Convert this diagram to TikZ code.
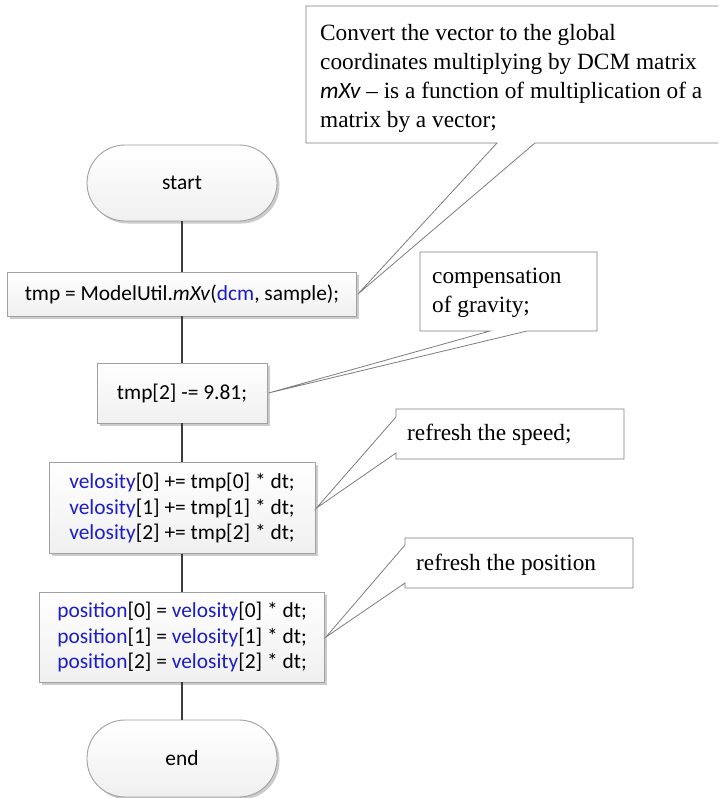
\documentclass[tikz,border=0pt]{standalone}
\usepackage{fontspec}
\setmainfont{Liberation Serif}
\newfontfamily\codefont{Carlito}
\usetikzlibrary{shadows}
\definecolor{codeblue}{RGB}{28,28,200}
\definecolor{boxline}{RGB}{160,160,160}
\definecolor{flowline}{RGB}{60,60,60}
\definecolor{callline}{RGB}{125,125,125}
\tikzset{
  proc/.style={rectangle, draw=boxline, line width=0.9pt, top color=white, bottom color=black!6,
    drop shadow={shadow xshift=2.5pt, shadow yshift=-2.5pt, opacity=0.2, fill=black},
    inner sep=0pt, align=center, font=\codefont\fontsize{21.4}{25.5}\selectfont},
  term/.style={proc, rounded corners=38pt},
  flow/.style={draw=flowline, line width=2.2pt},
  callout/.style={draw=callline, line width=0.8pt, fill=white},
  calltext/.style={anchor=north west, inner sep=0pt, align=left, font=\fontsize{23.3}{29}\selectfont},
}
\newcommand{\bl}[1]{\textcolor{codeblue}{#1}}
\begin{document}
\begin{tikzpicture}[x=1pt,y=-1pt]
\useasboundingbox (0,0) rectangle (718,798);
\clip (0,0) rectangle (718,798);
\fill[white] (0,0) rectangle (718,798);

% flowchart nodes
\node[term, minimum width=190pt, minimum height=76pt] (start) at (182,183) {start};
\node[proc, minimum width=349pt, minimum height=44pt] (b1) at (182,294) {tmp = ModelUtil.\textit{mXv}(\bl{dcm}, sample);};
\node[proc, minimum width=170pt, minimum height=60pt] (b2) at (182,393) {tmp[2] -= 9.81;};
\node[proc, minimum width=266pt, minimum height=91pt] (b3) at (182,508) {\bl{velosity}[0] += tmp[0] * dt;\\\bl{velosity}[1] += tmp[1] * dt;\\\bl{velosity}[2] += tmp[2] * dt;};
\node[proc, minimum width=285pt, minimum height=90pt] (b4) at (182,637) {\bl{position}[0] = \bl{velosity}[0] * dt;\\\bl{position}[1] = \bl{velosity}[1] * dt;\\\bl{position}[2] = \bl{velosity}[2] * dt;};
\node[term, minimum width=190pt, minimum height=77pt] (end) at (182,758.5) {end};

% connectors
\draw[flow] (start.south) -- (b1.north);
\draw[flow] (b1.south) -- (b2.north);
\draw[flow] (b2.south) -- (b3.north);
\draw[flow] (b3.south) -- (b4.north);
\draw[flow] (b4.south) -- (end.north);

% callout 1
\draw[callout] (306,6) -- (722,6) -- (722,143) -- (535,143) -- ([xshift=1pt]b1.east) -- (497,143) -- (306,143) -- cycle;
\node[calltext] (c1) at (320,24.5) {Convert the vector to the global\\coordinates multiplying by DCM matrix\\{\codefont\itshape mXv} -- is a function of multiplication of a\\matrix by a vector;};

% callout 2
\draw[callout] (420,252) -- (597,252) -- (597,331) -- (527,331) -- ([xshift=1pt]b2.east) -- (490,331) -- (420,331) -- cycle;
\node[calltext] (c2) at (432,268) {compensation\\of gravity;};

% callout 3
\draw[callout] (396,409) -- (624,409) -- (624,459) -- (396,459) -- (396,453) -- ([xshift=1pt]b3.east) -- (396,417) -- cycle;
\node[calltext, anchor=base west] (c3) at (407,440) {refresh the speed;};

% callout 4
\draw[callout] (405,538) -- (633,538) -- (633,588) -- (405,588) -- (405,583) -- ([xshift=1pt]b4.east) -- (405,545) -- cycle;
\node[calltext, anchor=base west] (c4) at (416,570) {refresh the position};
\end{tikzpicture}
\end{document}
